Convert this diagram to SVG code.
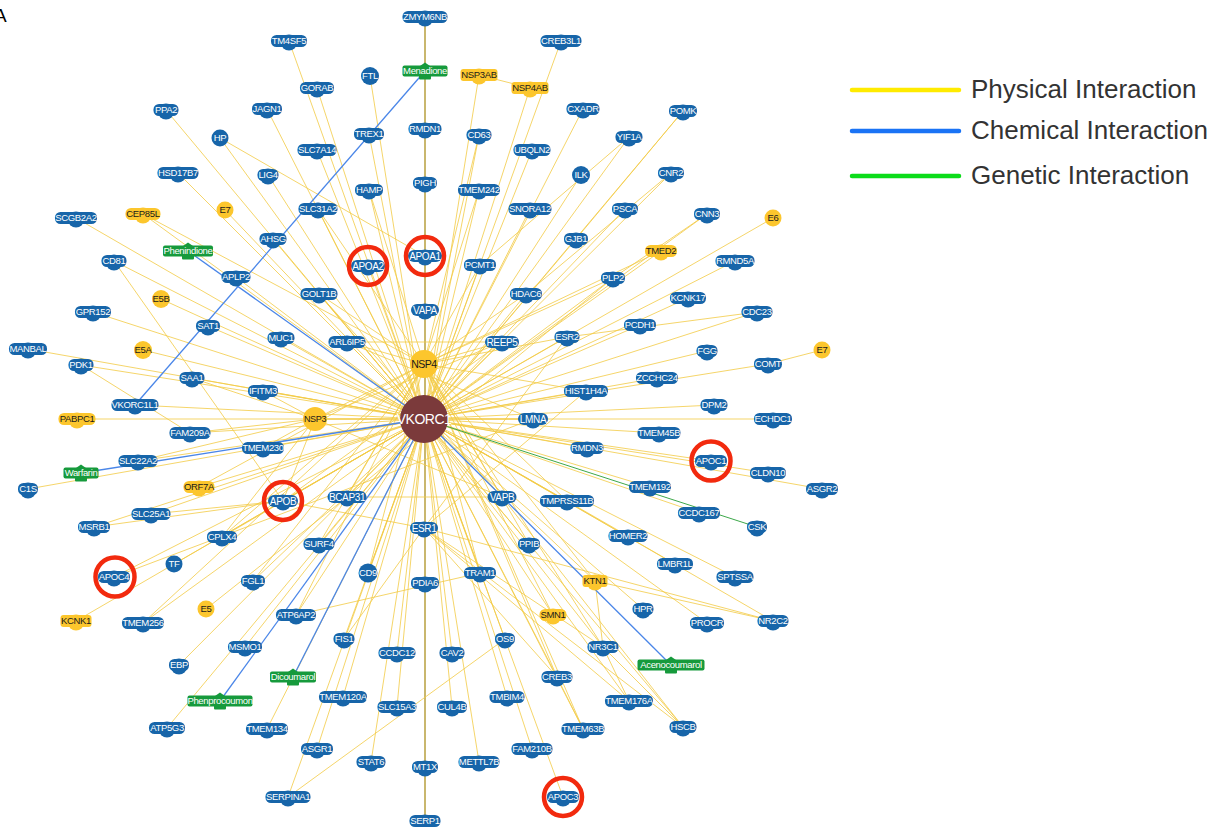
<svg xmlns="http://www.w3.org/2000/svg" width="1215" height="827" viewBox="0 0 1215 827">
<style>
.b{fill:#1765a9}
.y{fill:#fcc62d}
.g{fill:#169a3c}
rect.b,rect.y{y:-6px;height:12px}
circle.b[cy="1"],circle.y[cy="1"]{r:8px;cy:1.5px}
.t{font-family:"Liberation Sans",Arial,sans-serif;font-size:9.5px;letter-spacing:-0.35px;text-anchor:middle;fill:#fff}
.L{font-size:10px}
.k{fill:#1a1a1a}
.e line{stroke:#f2cb45;stroke-width:1;stroke-opacity:.8}
line.c{stroke:#4a86e8;stroke-width:1.3;stroke-opacity:1}
line.gn{stroke:#3da84a;stroke-width:1;stroke-opacity:1}
line.v{stroke:#c9b76e;stroke-width:2;stroke-opacity:1}
.r{fill:none;stroke:#f22a0e;stroke-width:4.5}
.lg{font-family:"Liberation Sans",Arial,sans-serif;font-size:26px;fill:#333}
</style>
<rect width="1215" height="827" fill="#fff"/>
<text x="-6" y="22" font-family="Liberation Sans,Arial,sans-serif" font-size="19" fill="#000">A</text>
<g id="connectors" class="e">
<line class="v" x1="425" y1="17" x2="425" y2="821"/>
<line x1="289" y1="41" x2="424" y2="419"/>
<line x1="317" y1="88" x2="424" y2="419"/>
<line x1="370" y1="76" x2="424" y2="419"/>
<line x1="267" y1="109" x2="424" y2="419"/>
<line x1="166" y1="110" x2="424" y2="419"/>
<line x1="220" y1="138" x2="424" y2="419"/>
<line x1="369" y1="134" x2="424" y2="419"/>
<line x1="317" y1="150" x2="424" y2="419"/>
<line x1="268" y1="175" x2="424" y2="419"/>
<line x1="178" y1="173" x2="424" y2="419"/>
<line x1="369" y1="190" x2="424" y2="419"/>
<line x1="318" y1="209" x2="424" y2="419"/>
<line x1="273" y1="239" x2="424" y2="419"/>
<line x1="76" y1="218" x2="424" y2="419"/>
<line x1="368" y1="266" x2="424" y2="419"/>
<line x1="114" y1="261" x2="424" y2="419"/>
<line x1="236" y1="277" x2="424" y2="419"/>
<line x1="319" y1="294" x2="424" y2="419"/>
<line x1="93" y1="312" x2="424" y2="419"/>
<line x1="208" y1="326" x2="424" y2="419"/>
<line x1="281" y1="338" x2="424" y2="419"/>
<line x1="347" y1="342" x2="424" y2="419"/>
<line x1="28" y1="349" x2="424" y2="419"/>
<line x1="81" y1="365" x2="424" y2="419"/>
<line x1="192" y1="378" x2="424" y2="419"/>
<line x1="263" y1="391" x2="424" y2="419"/>
<line x1="135" y1="405" x2="424" y2="419"/>
<line x1="190" y1="433" x2="424" y2="419"/>
<line x1="263" y1="448" x2="424" y2="419"/>
<line x1="138" y1="461" x2="424" y2="419"/>
<line x1="28" y1="489" x2="424" y2="419"/>
<line x1="283" y1="501" x2="424" y2="419"/>
<line x1="347" y1="497" x2="424" y2="419"/>
<line x1="151" y1="514" x2="424" y2="419"/>
<line x1="94" y1="527" x2="424" y2="419"/>
<line x1="222" y1="537" x2="424" y2="419"/>
<line x1="319" y1="544" x2="424" y2="419"/>
<line x1="114" y1="577" x2="424" y2="419"/>
<line x1="174" y1="564" x2="424" y2="419"/>
<line x1="253" y1="581" x2="424" y2="419"/>
<line x1="143" y1="623" x2="424" y2="419"/>
<line x1="368" y1="573" x2="424" y2="419"/>
<line x1="296" y1="615" x2="424" y2="419"/>
<line x1="245" y1="647" x2="424" y2="419"/>
<line x1="179" y1="665" x2="424" y2="419"/>
<line x1="344" y1="639" x2="424" y2="419"/>
<line x1="397" y1="653" x2="424" y2="419"/>
<line x1="167" y1="728" x2="424" y2="419"/>
<line x1="267" y1="729" x2="424" y2="419"/>
<line x1="343" y1="697" x2="424" y2="419"/>
<line x1="397" y1="707" x2="424" y2="419"/>
<line x1="317" y1="749" x2="424" y2="419"/>
<line x1="371" y1="762" x2="424" y2="419"/>
<line x1="288" y1="797" x2="424" y2="419"/>
<line x1="561" y1="41" x2="424" y2="419"/>
<line x1="583" y1="109" x2="424" y2="419"/>
<line x1="683" y1="111" x2="424" y2="419"/>
<line x1="479" y1="135" x2="424" y2="419"/>
<line x1="532" y1="150" x2="424" y2="419"/>
<line x1="629" y1="137" x2="424" y2="419"/>
<line x1="581" y1="175" x2="424" y2="419"/>
<line x1="671" y1="173" x2="424" y2="419"/>
<line x1="479" y1="190" x2="424" y2="419"/>
<line x1="530" y1="209" x2="424" y2="419"/>
<line x1="625" y1="209" x2="424" y2="419"/>
<line x1="707" y1="214" x2="424" y2="419"/>
<line x1="576" y1="239" x2="424" y2="419"/>
<line x1="480" y1="265" x2="424" y2="419"/>
<line x1="735" y1="261" x2="424" y2="419"/>
<line x1="613" y1="278" x2="424" y2="419"/>
<line x1="526" y1="294" x2="424" y2="419"/>
<line x1="688" y1="298" x2="424" y2="419"/>
<line x1="757" y1="312" x2="424" y2="419"/>
<line x1="640" y1="325" x2="424" y2="419"/>
<line x1="567" y1="337" x2="424" y2="419"/>
<line x1="502" y1="342" x2="424" y2="419"/>
<line x1="707" y1="351" x2="424" y2="419"/>
<line x1="768" y1="364" x2="424" y2="419"/>
<line x1="657" y1="378" x2="424" y2="419"/>
<line x1="586" y1="391" x2="424" y2="419"/>
<line x1="714" y1="405" x2="424" y2="419"/>
<line x1="533" y1="419" x2="424" y2="419"/>
<line x1="773" y1="419" x2="424" y2="419"/>
<line x1="659" y1="433" x2="424" y2="419"/>
<line x1="587" y1="448" x2="424" y2="419"/>
<line x1="711" y1="461" x2="424" y2="419"/>
<line x1="768" y1="473" x2="424" y2="419"/>
<line x1="822" y1="489" x2="424" y2="419"/>
<line x1="650" y1="487" x2="424" y2="419"/>
<line x1="502" y1="497" x2="424" y2="419"/>
<line x1="567" y1="501" x2="424" y2="419"/>
<line x1="699" y1="513" x2="424" y2="419"/>
<line x1="529" y1="544" x2="424" y2="419"/>
<line x1="628" y1="536" x2="424" y2="419"/>
<line x1="675" y1="564" x2="424" y2="419"/>
<line x1="735" y1="577" x2="424" y2="419"/>
<line x1="480" y1="573" x2="424" y2="419"/>
<line x1="643" y1="609" x2="424" y2="419"/>
<line x1="707" y1="623" x2="424" y2="419"/>
<line x1="773" y1="621" x2="424" y2="419"/>
<line x1="603" y1="647" x2="424" y2="419"/>
<line x1="452" y1="653" x2="424" y2="419"/>
<line x1="505" y1="639" x2="424" y2="419"/>
<line x1="557" y1="677" x2="424" y2="419"/>
<line x1="507" y1="697" x2="424" y2="419"/>
<line x1="452" y1="707" x2="424" y2="419"/>
<line x1="629" y1="701" x2="424" y2="419"/>
<line x1="583" y1="729" x2="424" y2="419"/>
<line x1="683" y1="727" x2="424" y2="419"/>
<line x1="532" y1="749" x2="424" y2="419"/>
<line x1="479" y1="762" x2="424" y2="419"/>
<line x1="563" y1="797" x2="424" y2="419"/>
<line x1="143" y1="214" x2="424" y2="419"/>
<line x1="479" y1="75" x2="424" y2="419"/>
<line x1="530" y1="88" x2="424" y2="419"/>
<line x1="661" y1="251" x2="424" y2="419"/>
<line x1="77" y1="419" x2="424" y2="419"/>
<line x1="199" y1="487" x2="424" y2="419"/>
<line x1="76" y1="621" x2="424" y2="419"/>
<line x1="595" y1="581" x2="424" y2="419"/>
<line x1="553" y1="615" x2="424" y2="419"/>
<line x1="225" y1="210" x2="424" y2="419"/>
<line x1="773" y1="218" x2="424" y2="419"/>
<line x1="161" y1="299" x2="424" y2="419"/>
<line x1="143" y1="350" x2="424" y2="419"/>
<line x1="315" y1="419" x2="424" y2="419"/>
<line x1="220" y1="138" x2="425" y2="256"/>
<line x1="114" y1="261" x2="283" y2="501"/>
<line x1="479" y1="75" x2="530" y2="88"/>
<line x1="822" y1="350" x2="768" y2="364"/>
<line x1="773" y1="621" x2="424" y2="528"/>
<line x1="206" y1="609" x2="347" y2="497"/>
<line x1="288" y1="797" x2="505" y2="639"/>
<line x1="296" y1="615" x2="480" y2="573"/>
<line x1="424" y1="364" x2="319" y2="294"/>
<line x1="424" y1="364" x2="347" y2="342"/>
<line x1="424" y1="364" x2="502" y2="342"/>
<line x1="424" y1="364" x2="526" y2="294"/>
<line x1="424" y1="364" x2="567" y2="337"/>
<line x1="424" y1="364" x2="315" y2="419"/>
<line x1="424" y1="364" x2="347" y2="497"/>
<line x1="424" y1="364" x2="502" y2="497"/>
<line x1="424" y1="364" x2="319" y2="544"/>
<line x1="424" y1="364" x2="222" y2="537"/>
<line x1="424" y1="364" x2="199" y2="487"/>
<line x1="424" y1="364" x2="613" y2="278"/>
<line x1="424" y1="364" x2="661" y2="251"/>
<line x1="424" y1="364" x2="143" y2="214"/>
<line x1="424" y1="364" x2="143" y2="623"/>
<line x1="424" y1="364" x2="253" y2="581"/>
<line x1="424" y1="364" x2="553" y2="615"/>
<line x1="424" y1="364" x2="595" y2="581"/>
<line x1="424" y1="364" x2="480" y2="265"/>
<line x1="424" y1="364" x2="479" y2="190"/>
<line x1="424" y1="364" x2="479" y2="135"/>
<line x1="424" y1="364" x2="318" y2="209"/>
<line x1="424" y1="364" x2="369" y2="190"/>
<line x1="424" y1="364" x2="480" y2="573"/>
<line x1="424" y1="364" x2="368" y2="573"/>
<line x1="424" y1="364" x2="529" y2="544"/>
<line x1="424" y1="364" x2="296" y2="615"/>
<line x1="424" y1="364" x2="567" y2="501"/>
<line x1="424" y1="364" x2="586" y2="391"/>
<line x1="424" y1="364" x2="603" y2="647"/>
<line x1="424" y1="364" x2="557" y2="677"/>
<line x1="424" y1="364" x2="583" y2="729"/>
<line x1="315" y1="419" x2="263" y2="391"/>
<line x1="315" y1="419" x2="263" y2="448"/>
<line x1="315" y1="419" x2="190" y2="433"/>
<line x1="315" y1="419" x2="192" y2="378"/>
<line x1="315" y1="419" x2="138" y2="461"/>
<line x1="315" y1="419" x2="283" y2="501"/>
<line x1="315" y1="419" x2="222" y2="537"/>
<line x1="315" y1="419" x2="502" y2="342"/>
<line x1="315" y1="419" x2="533" y2="419"/>
<line x1="315" y1="419" x2="502" y2="497"/>
<line x1="424" y1="528" x2="603" y2="647"/>
<line x1="424" y1="528" x2="629" y2="701"/>
<line x1="424" y1="528" x2="344" y2="639"/>
<line x1="424" y1="528" x2="683" y2="727"/>
<line x1="424" y1="528" x2="557" y2="677"/>
<line x1="424" y1="528" x2="586" y2="391"/>
<line x1="424" y1="528" x2="567" y2="337"/>
<line x1="424" y1="528" x2="283" y2="501"/>
<line x1="533" y1="419" x2="114" y2="577"/>
<line x1="533" y1="419" x2="347" y2="342"/>
<line x1="502" y1="497" x2="319" y2="294"/>
<line x1="502" y1="497" x2="683" y2="727"/>
<line x1="502" y1="342" x2="283" y2="501"/>
<line x1="502" y1="342" x2="347" y2="342"/>
<line x1="347" y1="497" x2="502" y2="497"/>
<line x1="347" y1="497" x2="613" y2="278"/>
<line x1="283" y1="501" x2="151" y2="514"/>
<line x1="283" y1="501" x2="94" y2="527"/>
<line x1="81" y1="365" x2="190" y2="433"/>
<line x1="603" y1="647" x2="683" y2="727"/>
<line x1="603" y1="647" x2="629" y2="701"/>
<line x1="595" y1="581" x2="773" y2="621"/>
<line x1="595" y1="581" x2="603" y2="647"/>
<line x1="757" y1="312" x2="567" y2="337"/>
<line x1="683" y1="111" x2="576" y2="239"/>
<line x1="629" y1="137" x2="480" y2="265"/>
<line x1="671" y1="173" x2="526" y2="294"/>
<line x1="707" y1="214" x2="613" y2="278"/>
<line x1="557" y1="677" x2="583" y2="729"/>
<line class="c" x1="425" y1="71" x2="135" y2="405"/>
<line class="c" x1="188" y1="251" x2="424" y2="419"/>
<line class="c" x1="81" y1="473" x2="424" y2="419"/>
<line class="c" x1="293" y1="677" x2="424" y2="419"/>
<line class="c" x1="220" y1="701" x2="424" y2="419"/>
<line class="c" x1="671" y1="665" x2="424" y2="419"/>
<line class="gn" x1="424" y1="419" x2="757" y2="527"/>
</g>
<g id="nodes">
<g id="n-VKORC1"><circle cx="424" cy="419" r="24" fill="#7b3a3b"/><text class="t" x="424" y="424" style="font-size:14px;letter-spacing:-0.5px">VKORC1</text></g>
<g id="n-NSP4"><circle class="y" cx="424" cy="364" r="14"/><text class="t k" x="424" y="368" style="font-size:10.5px;letter-spacing:-0.5px">NSP4</text></g>
<g id="n-NSP3"><circle class="y" cx="315" cy="419" r="12"/><text class="t k" x="315" y="422" style="font-size:9px">NSP3</text></g>
<g id="n-E7a" transform="translate(225 210)"><circle class="y" r="8.5"/><text class="t k" y="3">E7</text></g>
<g id="n-E6" transform="translate(773 218)"><circle class="y" r="8.5"/><text class="t k" y="3">E6</text></g>
<g id="n-E5B" transform="translate(161 299)"><circle class="y" r="9"/><text class="t k" y="3">E5B</text></g>
<g id="n-E5A" transform="translate(143 350)"><circle class="y" r="9"/><text class="t k" y="3">E5A</text></g>
<g id="n-E7b" transform="translate(822 350)"><circle class="y" r="8.5"/><text class="t k" y="3">E7</text></g>
<g id="n-E5" transform="translate(206 609)"><circle class="y" r="8.5"/><text class="t k" y="3">E5</text></g>
<g id="n-HP" transform="translate(220 138)"><circle class="b" r="8.5"/><text class="t" y="3">HP</text></g>
<g id="n-FTL" transform="translate(370 76)"><circle class="b" r="9"/><text class="t" y="3">FTL</text></g>
<g id="n-TF" transform="translate(174 564)"><circle class="b" r="8.5"/><text class="t" y="3">TF</text></g>
<g id="n-ILK" transform="translate(581 175)"><circle class="b" r="9"/><text class="t" y="3">ILK</text></g>
<g id="n-CD9" transform="translate(368 573)"><circle class="b" r="9.5"/><text class="t" y="3">CD9</text></g>
<g id="n-ZMYM6NB" transform="translate(425 17)"><rect class="b" x="-22.5" y="-5.5" width="45" height="11" rx="5.5"/><circle class="b" cy="1" r="7.5"/><text class="t" y="3">ZMYM6NB</text></g>
<g id="n-RMDN1" transform="translate(425 129)"><rect class="b" x="-16.5" y="-5.5" width="33" height="11" rx="5.5"/><circle class="b" cy="1" r="7.5"/><text class="t" y="3">RMDN1</text></g>
<g id="n-PIGH" transform="translate(425 183)"><rect class="b" x="-12" y="-5.5" width="24" height="11" rx="5.5"/><circle class="b" cy="1" r="7.5"/><text class="t" y="3">PIGH</text></g>
<g id="n-APOA1" transform="translate(425 256)"><rect class="b" x="-17" y="-6" width="34" height="12" rx="6"/><circle class="b" cy="1" r="8"/><text class="t L" y="3.5">APOA1</text></g>
<g id="n-VAPA" transform="translate(425 310)"><rect class="b" x="-14" y="-6" width="28" height="12" rx="6"/><circle class="b" cy="1" r="8"/><text class="t L" y="3.5">VAPA</text></g>
<g id="n-ESR1" transform="translate(424 528)"><rect class="b" x="-14" y="-6" width="28" height="12" rx="6"/><circle class="b" cy="1" r="8"/><text class="t L" y="3.5">ESR1</text></g>
<g id="n-PDIA6" transform="translate(425 583)"><rect class="b" x="-14" y="-5.5" width="28" height="11" rx="5.5"/><circle class="b" cy="1" r="7.5"/><text class="t" y="3">PDIA6</text></g>
<g id="n-MT1X" transform="translate(425 767)"><rect class="b" x="-13" y="-5.5" width="26" height="11" rx="5.5"/><circle class="b" cy="1" r="7.5"/><text class="t" y="3">MT1X</text></g>
<g id="n-SERP1" transform="translate(425 821)"><rect class="b" x="-15.5" y="-5.5" width="31" height="11" rx="5.5"/><circle class="b" cy="1" r="7.5"/><text class="t" y="3">SERP1</text></g>
<g id="n-TM4SF5" transform="translate(289 41)"><rect class="b" x="-18" y="-5.5" width="36" height="11" rx="5.5"/><circle class="b" cy="1" r="7.5"/><text class="t" y="3">TM4SF5</text></g>
<g id="n-GORAB" transform="translate(317 88)"><rect class="b" x="-17" y="-5.5" width="34" height="11" rx="5.5"/><circle class="b" cy="1" r="7.5"/><text class="t" y="3">GORAB</text></g>
<g id="n-JAGN1" transform="translate(267 109)"><rect class="b" x="-15" y="-5.5" width="30" height="11" rx="5.5"/><circle class="b" cy="1" r="7.5"/><text class="t" y="3">JAGN1</text></g>
<g id="n-PPA2" transform="translate(166 110)"><rect class="b" x="-12.5" y="-5.5" width="25" height="11" rx="5.5"/><circle class="b" cy="1" r="7.5"/><text class="t" y="3">PPA2</text></g>
<g id="n-TREX1" transform="translate(369 134)"><rect class="b" x="-15" y="-5.5" width="30" height="11" rx="5.5"/><circle class="b" cy="1" r="7.5"/><text class="t" y="3">TREX1</text></g>
<g id="n-SLC7A14" transform="translate(317 150)"><rect class="b" x="-19.5" y="-5.5" width="39" height="11" rx="5.5"/><circle class="b" cy="1" r="7.5"/><text class="t" y="3">SLC7A14</text></g>
<g id="n-LIG4" transform="translate(268 175)"><rect class="b" x="-10.5" y="-5.5" width="21" height="11" rx="5.5"/><circle class="b" cy="1" r="7.5"/><text class="t" y="3">LIG4</text></g>
<g id="n-HSD17B7" transform="translate(178 173)"><rect class="b" x="-20.5" y="-5.5" width="41" height="11" rx="5.5"/><circle class="b" cy="1" r="7.5"/><text class="t" y="3">HSD17B7</text></g>
<g id="n-HAMP" transform="translate(369 190)"><rect class="b" x="-14" y="-5.5" width="28" height="11" rx="5.5"/><circle class="b" cy="1" r="7.5"/><text class="t" y="3">HAMP</text></g>
<g id="n-SLC31A2" transform="translate(318 209)"><rect class="b" x="-19.5" y="-5.5" width="39" height="11" rx="5.5"/><circle class="b" cy="1" r="7.5"/><text class="t" y="3">SLC31A2</text></g>
<g id="n-AHSG" transform="translate(273 239)"><rect class="b" x="-13.5" y="-5.5" width="27" height="11" rx="5.5"/><circle class="b" cy="1" r="7.5"/><text class="t" y="3">AHSG</text></g>
<g id="n-SCGB2A2" transform="translate(76 218)"><rect class="b" x="-21" y="-5.5" width="42" height="11" rx="5.5"/><circle class="b" cy="1" r="7.5"/><text class="t" y="3">SCGB2A2</text></g>
<g id="n-APOA2" transform="translate(368 266)"><rect class="b" x="-17" y="-6" width="34" height="12" rx="6"/><circle class="b" cy="1" r="8"/><text class="t L" y="3.5">APOA2</text></g>
<g id="n-CD81" transform="translate(114 261)"><rect class="b" x="-12.5" y="-5.5" width="25" height="11" rx="5.5"/><circle class="b" cy="1" r="7.5"/><text class="t" y="3">CD81</text></g>
<g id="n-APLP2" transform="translate(236 277)"><rect class="b" x="-14.5" y="-5.5" width="29" height="11" rx="5.5"/><circle class="b" cy="1" r="7.5"/><text class="t" y="3">APLP2</text></g>
<g id="n-GOLT1B" transform="translate(319 294)"><rect class="b" x="-18.5" y="-5.5" width="37" height="11" rx="5.5"/><circle class="b" cy="1" r="7.5"/><text class="t" y="3">GOLT1B</text></g>
<g id="n-GPR152" transform="translate(93 312)"><rect class="b" x="-18" y="-5.5" width="36" height="11" rx="5.5"/><circle class="b" cy="1" r="7.5"/><text class="t" y="3">GPR152</text></g>
<g id="n-SAT1" transform="translate(208 326)"><rect class="b" x="-12" y="-5.5" width="24" height="11" rx="5.5"/><circle class="b" cy="1" r="7.5"/><text class="t" y="3">SAT1</text></g>
<g id="n-MUC1" transform="translate(281 338)"><rect class="b" x="-13.5" y="-5.5" width="27" height="11" rx="5.5"/><circle class="b" cy="1" r="7.5"/><text class="t" y="3">MUC1</text></g>
<g id="n-ARL6IP5" transform="translate(347 342)"><rect class="b" x="-18.5" y="-5.5" width="37" height="11" rx="5.5"/><circle class="b" cy="1" r="7.5"/><text class="t" y="3">ARL6IP5</text></g>
<g id="n-MANBAL" transform="translate(28 349)"><rect class="b" x="-19" y="-5.5" width="38" height="11" rx="5.5"/><circle class="b" cy="1" r="7.5"/><text class="t" y="3">MANBAL</text></g>
<g id="n-PDK1" transform="translate(81 365)"><rect class="b" x="-12.5" y="-5.5" width="25" height="11" rx="5.5"/><circle class="b" cy="1" r="7.5"/><text class="t" y="3">PDK1</text></g>
<g id="n-SAA1" transform="translate(192 378)"><rect class="b" x="-12.5" y="-5.5" width="25" height="11" rx="5.5"/><circle class="b" cy="1" r="7.5"/><text class="t" y="3">SAA1</text></g>
<g id="n-IFITM3" transform="translate(263 391)"><rect class="b" x="-15" y="-5.5" width="30" height="11" rx="5.5"/><circle class="b" cy="1" r="7.5"/><text class="t" y="3">IFITM3</text></g>
<g id="n-VKORC1L1" transform="translate(135 405)"><rect class="b" x="-23.5" y="-5.5" width="47" height="11" rx="5.5"/><circle class="b" cy="1" r="7.5"/><text class="t" y="3">VKORC1L1</text></g>
<g id="n-FAM209A" transform="translate(190 433)"><rect class="b" x="-20.5" y="-5.5" width="41" height="11" rx="5.5"/><circle class="b" cy="1" r="7.5"/><text class="t" y="3">FAM209A</text></g>
<g id="n-TMEM230" transform="translate(263 448)"><rect class="b" x="-21" y="-5.5" width="42" height="11" rx="5.5"/><circle class="b" cy="1" r="7.5"/><text class="t" y="3">TMEM230</text></g>
<g id="n-SLC22A2" transform="translate(138 461)"><rect class="b" x="-19.5" y="-5.5" width="39" height="11" rx="5.5"/><circle class="b" cy="1" r="7.5"/><text class="t" y="3">SLC22A2</text></g>
<g id="n-C1S" transform="translate(28 489)"><rect class="b" x="-10" y="-5.5" width="20" height="11" rx="5.5"/><circle class="b" cy="1" r="7.5"/><text class="t" y="3">C1S</text></g>
<g id="n-APOB" transform="translate(283 501)"><rect class="b" x="-15" y="-6" width="30" height="12" rx="6"/><circle class="b" cy="1" r="8"/><text class="t L" y="3.5">APOB</text></g>
<g id="n-BCAP31" transform="translate(347 497)"><rect class="b" x="-19.5" y="-6" width="39" height="12" rx="6"/><circle class="b" cy="1" r="8"/><text class="t L" y="3.5">BCAP31</text></g>
<g id="n-SLC25A1" transform="translate(151 514)"><rect class="b" x="-19.5" y="-5.5" width="39" height="11" rx="5.5"/><circle class="b" cy="1" r="7.5"/><text class="t" y="3">SLC25A1</text></g>
<g id="n-MSRB1" transform="translate(94 527)"><rect class="b" x="-16" y="-5.5" width="32" height="11" rx="5.5"/><circle class="b" cy="1" r="7.5"/><text class="t" y="3">MSRB1</text></g>
<g id="n-CPLX4" transform="translate(222 537)"><rect class="b" x="-15" y="-5.5" width="30" height="11" rx="5.5"/><circle class="b" cy="1" r="7.5"/><text class="t" y="3">CPLX4</text></g>
<g id="n-SURF4" transform="translate(319 544)"><rect class="b" x="-15.5" y="-5.5" width="31" height="11" rx="5.5"/><circle class="b" cy="1" r="7.5"/><text class="t" y="3">SURF4</text></g>
<g id="n-APOC4" transform="translate(114 577)"><rect class="b" x="-16" y="-5.5" width="32" height="11" rx="5.5"/><circle class="b" cy="1" r="7.5"/><text class="t" y="3">APOC4</text></g>
<g id="n-FGL1" transform="translate(253 581)"><rect class="b" x="-12" y="-5.5" width="24" height="11" rx="5.5"/><circle class="b" cy="1" r="7.5"/><text class="t" y="3">FGL1</text></g>
<g id="n-TMEM256" transform="translate(143 623)"><rect class="b" x="-21" y="-5.5" width="42" height="11" rx="5.5"/><circle class="b" cy="1" r="7.5"/><text class="t" y="3">TMEM256</text></g>
<g id="n-ATP6AP2" transform="translate(296 615)"><rect class="b" x="-20" y="-5.5" width="40" height="11" rx="5.5"/><circle class="b" cy="1" r="7.5"/><text class="t" y="3">ATP6AP2</text></g>
<g id="n-MSMO1" transform="translate(245 647)"><rect class="b" x="-17" y="-5.5" width="34" height="11" rx="5.5"/><circle class="b" cy="1" r="7.5"/><text class="t" y="3">MSMO1</text></g>
<g id="n-EBP" transform="translate(179 665)"><rect class="b" x="-10" y="-5.5" width="20" height="11" rx="5.5"/><circle class="b" cy="1" r="7.5"/><text class="t" y="3">EBP</text></g>
<g id="n-FIS1" transform="translate(344 639)"><rect class="b" x="-10.5" y="-5.5" width="21" height="11" rx="5.5"/><circle class="b" cy="1" r="7.5"/><text class="t" y="3">FIS1</text></g>
<g id="n-CCDC12" transform="translate(397 653)"><rect class="b" x="-18.5" y="-5.5" width="37" height="11" rx="5.5"/><circle class="b" cy="1" r="7.5"/><text class="t" y="3">CCDC12</text></g>
<g id="n-ATP5G3" transform="translate(167 728)"><rect class="b" x="-18" y="-5.5" width="36" height="11" rx="5.5"/><circle class="b" cy="1" r="7.5"/><text class="t" y="3">ATP5G3</text></g>
<g id="n-TMEM134" transform="translate(267 729)"><rect class="b" x="-21" y="-5.5" width="42" height="11" rx="5.5"/><circle class="b" cy="1" r="7.5"/><text class="t" y="3">TMEM134</text></g>
<g id="n-TMEM120A" transform="translate(343 697)"><rect class="b" x="-24" y="-5.5" width="48" height="11" rx="5.5"/><circle class="b" cy="1" r="7.5"/><text class="t" y="3">TMEM120A</text></g>
<g id="n-SLC15A3" transform="translate(397 707)"><rect class="b" x="-19.5" y="-5.5" width="39" height="11" rx="5.5"/><circle class="b" cy="1" r="7.5"/><text class="t" y="3">SLC15A3</text></g>
<g id="n-ASGR1" transform="translate(317 749)"><rect class="b" x="-16" y="-5.5" width="32" height="11" rx="5.5"/><circle class="b" cy="1" r="7.5"/><text class="t" y="3">ASGR1</text></g>
<g id="n-STAT6" transform="translate(371 762)"><rect class="b" x="-14.5" y="-5.5" width="29" height="11" rx="5.5"/><circle class="b" cy="1" r="7.5"/><text class="t" y="3">STAT6</text></g>
<g id="n-SERPINA1" transform="translate(288 797)"><rect class="b" x="-22.5" y="-5.5" width="45" height="11" rx="5.5"/><circle class="b" cy="1" r="7.5"/><text class="t" y="3">SERPINA1</text></g>
<g id="n-CREB3L1" transform="translate(561 41)"><rect class="b" x="-20.5" y="-5.5" width="41" height="11" rx="5.5"/><circle class="b" cy="1" r="7.5"/><text class="t" y="3">CREB3L1</text></g>
<g id="n-CXADR" transform="translate(583 109)"><rect class="b" x="-16.5" y="-5.5" width="33" height="11" rx="5.5"/><circle class="b" cy="1" r="7.5"/><text class="t" y="3">CXADR</text></g>
<g id="n-POMK" transform="translate(683 111)"><rect class="b" x="-14" y="-5.5" width="28" height="11" rx="5.5"/><circle class="b" cy="1" r="7.5"/><text class="t" y="3">POMK</text></g>
<g id="n-CD63" transform="translate(479 135)"><rect class="b" x="-12.5" y="-5.5" width="25" height="11" rx="5.5"/><circle class="b" cy="1" r="7.5"/><text class="t" y="3">CD63</text></g>
<g id="n-UBQLN2" transform="translate(532 150)"><rect class="b" x="-18.5" y="-5.5" width="37" height="11" rx="5.5"/><circle class="b" cy="1" r="7.5"/><text class="t" y="3">UBQLN2</text></g>
<g id="n-YIF1A" transform="translate(629 137)"><rect class="b" x="-13.5" y="-5.5" width="27" height="11" rx="5.5"/><circle class="b" cy="1" r="7.5"/><text class="t" y="3">YIF1A</text></g>
<g id="n-CNR2" transform="translate(671 173)"><rect class="b" x="-13" y="-5.5" width="26" height="11" rx="5.5"/><circle class="b" cy="1" r="7.5"/><text class="t" y="3">CNR2</text></g>
<g id="n-TMEM242" transform="translate(479 190)"><rect class="b" x="-21" y="-5.5" width="42" height="11" rx="5.5"/><circle class="b" cy="1" r="7.5"/><text class="t" y="3">TMEM242</text></g>
<g id="n-SNORA12" transform="translate(530 209)"><rect class="b" x="-21.5" y="-5.5" width="43" height="11" rx="5.5"/><circle class="b" cy="1" r="7.5"/><text class="t" y="3">SNORA12</text></g>
<g id="n-PSCA" transform="translate(625 209)"><rect class="b" x="-13" y="-5.5" width="26" height="11" rx="5.5"/><circle class="b" cy="1" r="7.5"/><text class="t" y="3">PSCA</text></g>
<g id="n-CNN3" transform="translate(707 214)"><rect class="b" x="-13" y="-5.5" width="26" height="11" rx="5.5"/><circle class="b" cy="1" r="7.5"/><text class="t" y="3">CNN3</text></g>
<g id="n-GJB1" transform="translate(576 239)"><rect class="b" x="-12" y="-5.5" width="24" height="11" rx="5.5"/><circle class="b" cy="1" r="7.5"/><text class="t" y="3">GJB1</text></g>
<g id="n-PCMT1" transform="translate(480 265)"><rect class="b" x="-16" y="-5.5" width="32" height="11" rx="5.5"/><circle class="b" cy="1" r="7.5"/><text class="t" y="3">PCMT1</text></g>
<g id="n-RMND5A" transform="translate(735 261)"><rect class="b" x="-19.5" y="-5.5" width="39" height="11" rx="5.5"/><circle class="b" cy="1" r="7.5"/><text class="t" y="3">RMND5A</text></g>
<g id="n-PLP2" transform="translate(613 278)"><rect class="b" x="-12" y="-5.5" width="24" height="11" rx="5.5"/><circle class="b" cy="1" r="7.5"/><text class="t" y="3">PLP2</text></g>
<g id="n-HDAC6" transform="translate(526 294)"><rect class="b" x="-16" y="-5.5" width="32" height="11" rx="5.5"/><circle class="b" cy="1" r="7.5"/><text class="t" y="3">HDAC6</text></g>
<g id="n-KCNK17" transform="translate(688 298)"><rect class="b" x="-18" y="-5.5" width="36" height="11" rx="5.5"/><circle class="b" cy="1" r="7.5"/><text class="t" y="3">KCNK17</text></g>
<g id="n-CDC23" transform="translate(757 312)"><rect class="b" x="-15.5" y="-5.5" width="31" height="11" rx="5.5"/><circle class="b" cy="1" r="7.5"/><text class="t" y="3">CDC23</text></g>
<g id="n-PCDH1" transform="translate(640 325)"><rect class="b" x="-16" y="-5.5" width="32" height="11" rx="5.5"/><circle class="b" cy="1" r="7.5"/><text class="t" y="3">PCDH1</text></g>
<g id="n-ESR2" transform="translate(567 337)"><rect class="b" x="-12.5" y="-5.5" width="25" height="11" rx="5.5"/><circle class="b" cy="1" r="7.5"/><text class="t" y="3">ESR2</text></g>
<g id="n-REEP5" transform="translate(502 342)"><rect class="b" x="-17" y="-6" width="34" height="12" rx="6"/><circle class="b" cy="1" r="8"/><text class="t L" y="3.5">REEP5</text></g>
<g id="n-FGG" transform="translate(707 351)"><rect class="b" x="-10.5" y="-5.5" width="21" height="11" rx="5.5"/><circle class="b" cy="1" r="7.5"/><text class="t" y="3">FGG</text></g>
<g id="n-COMT" transform="translate(768 364)"><rect class="b" x="-14" y="-5.5" width="28" height="11" rx="5.5"/><circle class="b" cy="1" r="7.5"/><text class="t" y="3">COMT</text></g>
<g id="n-ZCCHC24" transform="translate(657 378)"><rect class="b" x="-21" y="-5.5" width="42" height="11" rx="5.5"/><circle class="b" cy="1" r="7.5"/><text class="t" y="3">ZCCHC24</text></g>
<g id="n-HIST1H4A" transform="translate(586 391)"><rect class="b" x="-22" y="-5.5" width="44" height="11" rx="5.5"/><circle class="b" cy="1" r="7.5"/><text class="t" y="3">HIST1H4A</text></g>
<g id="n-DPM2" transform="translate(714 405)"><rect class="b" x="-13.5" y="-5.5" width="27" height="11" rx="5.5"/><circle class="b" cy="1" r="7.5"/><text class="t" y="3">DPM2</text></g>
<g id="n-LMNA" transform="translate(533 419)"><rect class="b" x="-15" y="-6" width="30" height="12" rx="6"/><circle class="b" cy="1" r="8"/><text class="t L" y="3.5">LMNA</text></g>
<g id="n-ECHDC1" transform="translate(773 419)"><rect class="b" x="-19" y="-5.5" width="38" height="11" rx="5.5"/><circle class="b" cy="1" r="7.5"/><text class="t" y="3">ECHDC1</text></g>
<g id="n-TMEM45B" transform="translate(659 433)"><rect class="b" x="-21.5" y="-5.5" width="43" height="11" rx="5.5"/><circle class="b" cy="1" r="7.5"/><text class="t" y="3">TMEM45B</text></g>
<g id="n-RMDN3" transform="translate(587 448)"><rect class="b" x="-16.5" y="-5.5" width="33" height="11" rx="5.5"/><circle class="b" cy="1" r="7.5"/><text class="t" y="3">RMDN3</text></g>
<g id="n-APOC1" transform="translate(711 461)"><rect class="b" x="-16" y="-5.5" width="32" height="11" rx="5.5"/><circle class="b" cy="1" r="7.5"/><text class="t" y="3">APOC1</text></g>
<g id="n-CLDN10" transform="translate(768 473)"><rect class="b" x="-18" y="-5.5" width="36" height="11" rx="5.5"/><circle class="b" cy="1" r="7.5"/><text class="t" y="3">CLDN10</text></g>
<g id="n-ASGR2" transform="translate(822 489)"><rect class="b" x="-16" y="-5.5" width="32" height="11" rx="5.5"/><circle class="b" cy="1" r="7.5"/><text class="t" y="3">ASGR2</text></g>
<g id="n-TMEM192" transform="translate(650 487)"><rect class="b" x="-21" y="-5.5" width="42" height="11" rx="5.5"/><circle class="b" cy="1" r="7.5"/><text class="t" y="3">TMEM192</text></g>
<g id="n-VAPB" transform="translate(502 497)"><rect class="b" x="-14.5" y="-6" width="29" height="12" rx="6"/><circle class="b" cy="1" r="8"/><text class="t L" y="3.5">VAPB</text></g>
<g id="n-TMPRSS11B" transform="translate(567 501)"><rect class="b" x="-27" y="-5.5" width="54" height="11" rx="5.5"/><circle class="b" cy="1" r="7.5"/><text class="t" y="3">TMPRSS11B</text></g>
<g id="n-CCDC167" transform="translate(699 513)"><rect class="b" x="-21" y="-5.5" width="42" height="11" rx="5.5"/><circle class="b" cy="1" r="7.5"/><text class="t" y="3">CCDC167</text></g>
<g id="n-CSK" transform="translate(757 527)"><rect class="b" x="-10" y="-5.5" width="20" height="11" rx="5.5"/><circle class="b" cy="1" r="7.5"/><text class="t" y="3">CSK</text></g>
<g id="n-PPIB" transform="translate(529 544)"><rect class="b" x="-11" y="-5.5" width="22" height="11" rx="5.5"/><circle class="b" cy="1" r="7.5"/><text class="t" y="3">PPIB</text></g>
<g id="n-HOMER2" transform="translate(628 536)"><rect class="b" x="-19.5" y="-5.5" width="39" height="11" rx="5.5"/><circle class="b" cy="1" r="7.5"/><text class="t" y="3">HOMER2</text></g>
<g id="n-LMBR1L" transform="translate(675 564)"><rect class="b" x="-18" y="-5.5" width="36" height="11" rx="5.5"/><circle class="b" cy="1" r="7.5"/><text class="t" y="3">LMBR1L</text></g>
<g id="n-SPTSSA" transform="translate(735 577)"><rect class="b" x="-18.5" y="-5.5" width="37" height="11" rx="5.5"/><circle class="b" cy="1" r="7.5"/><text class="t" y="3">SPTSSA</text></g>
<g id="n-TRAM1" transform="translate(480 573)"><rect class="b" x="-16" y="-5.5" width="32" height="11" rx="5.5"/><circle class="b" cy="1" r="7.5"/><text class="t" y="3">TRAM1</text></g>
<g id="n-HPR" transform="translate(643 609)"><rect class="b" x="-10.5" y="-5.5" width="21" height="11" rx="5.5"/><circle class="b" cy="1" r="7.5"/><text class="t" y="3">HPR</text></g>
<g id="n-PROCR" transform="translate(707 623)"><rect class="b" x="-17" y="-5.5" width="34" height="11" rx="5.5"/><circle class="b" cy="1" r="7.5"/><text class="t" y="3">PROCR</text></g>
<g id="n-NR2C2" transform="translate(773 621)"><rect class="b" x="-15.5" y="-5.5" width="31" height="11" rx="5.5"/><circle class="b" cy="1" r="7.5"/><text class="t" y="3">NR2C2</text></g>
<g id="n-NR3C1" transform="translate(603 647)"><rect class="b" x="-15.5" y="-5.5" width="31" height="11" rx="5.5"/><circle class="b" cy="1" r="7.5"/><text class="t" y="3">NR3C1</text></g>
<g id="n-CAV2" transform="translate(452 653)"><rect class="b" x="-12.5" y="-5.5" width="25" height="11" rx="5.5"/><circle class="b" cy="1" r="7.5"/><text class="t" y="3">CAV2</text></g>
<g id="n-OS9" transform="translate(505 639)"><rect class="b" x="-10" y="-5.5" width="20" height="11" rx="5.5"/><circle class="b" cy="1" r="7.5"/><text class="t" y="3">OS9</text></g>
<g id="n-CREB3" transform="translate(557 677)"><rect class="b" x="-15.5" y="-5.5" width="31" height="11" rx="5.5"/><circle class="b" cy="1" r="7.5"/><text class="t" y="3">CREB3</text></g>
<g id="n-TMBIM4" transform="translate(507 697)"><rect class="b" x="-17.5" y="-5.5" width="35" height="11" rx="5.5"/><circle class="b" cy="1" r="7.5"/><text class="t" y="3">TMBIM4</text></g>
<g id="n-CUL4B" transform="translate(452 707)"><rect class="b" x="-15" y="-5.5" width="30" height="11" rx="5.5"/><circle class="b" cy="1" r="7.5"/><text class="t" y="3">CUL4B</text></g>
<g id="n-TMEM176A" transform="translate(629 701)"><rect class="b" x="-24" y="-5.5" width="48" height="11" rx="5.5"/><circle class="b" cy="1" r="7.5"/><text class="t" y="3">TMEM176A</text></g>
<g id="n-TMEM63B" transform="translate(583 729)"><rect class="b" x="-21.5" y="-5.5" width="43" height="11" rx="5.5"/><circle class="b" cy="1" r="7.5"/><text class="t" y="3">TMEM63B</text></g>
<g id="n-HSCB" transform="translate(683 727)"><rect class="b" x="-13.5" y="-5.5" width="27" height="11" rx="5.5"/><circle class="b" cy="1" r="7.5"/><text class="t" y="3">HSCB</text></g>
<g id="n-FAM210B" transform="translate(532 749)"><rect class="b" x="-20.5" y="-5.5" width="41" height="11" rx="5.5"/><circle class="b" cy="1" r="7.5"/><text class="t" y="3">FAM210B</text></g>
<g id="n-METTL7B" transform="translate(479 762)"><rect class="b" x="-20.5" y="-5.5" width="41" height="11" rx="5.5"/><circle class="b" cy="1" r="7.5"/><text class="t" y="3">METTL7B</text></g>
<g id="n-APOC3" transform="translate(563 797)"><rect class="b" x="-16" y="-5.5" width="32" height="11" rx="5.5"/><circle class="b" cy="1" r="7.5"/><text class="t" y="3">APOC3</text></g>
<g id="n-CEP85L" transform="translate(143 214)"><rect class="y" x="-17.5" y="-5.5" width="35" height="11" rx="5.5"/><circle class="y" cy="1" r="7.5"/><text class="t k" y="3">CEP85L</text></g>
<g id="n-NSP3AB" transform="translate(479 75)"><rect class="y" x="-18.5" y="-5.5" width="37" height="11" rx="3"/><circle class="y" cy="1" r="7.5"/><text class="t k" y="3">NSP3AB</text></g>
<g id="n-NSP4AB" transform="translate(530 88)"><rect class="y" x="-18.5" y="-5.5" width="37" height="11" rx="3"/><circle class="y" cy="1" r="7.5"/><text class="t k" y="3">NSP4AB</text></g>
<g id="n-TMED2" transform="translate(661 251)"><rect class="y" x="-16" y="-5.5" width="32" height="11" rx="5.5"/><circle class="y" cy="1" r="7.5"/><text class="t k" y="3">TMED2</text></g>
<g id="n-PABPC1" transform="translate(77 419)"><rect class="y" x="-18.5" y="-5.5" width="37" height="11" rx="5.5"/><circle class="y" cy="1" r="7.5"/><text class="t k" y="3">PABPC1</text></g>
<g id="n-ORF7A" transform="translate(199 487)"><rect class="y" x="-15.5" y="-5.5" width="31" height="11" rx="5.5"/><circle class="y" cy="1" r="7.5"/><text class="t k" y="3">ORF7A</text></g>
<g id="n-KCNK1" transform="translate(76 621)"><rect class="y" x="-15.5" y="-5.5" width="31" height="11" rx="3"/><circle class="y" cy="1" r="7.5"/><text class="t k" y="3">KCNK1</text></g>
<g id="n-KTN1" transform="translate(595 581)"><rect class="y" x="-12.5" y="-5.5" width="25" height="11" rx="3"/><circle class="y" cy="1" r="7.5"/><text class="t k" y="3">KTN1</text></g>
<g id="n-SMN1" transform="translate(553 615)"><rect class="y" x="-13.5" y="-5.5" width="27" height="11" rx="5.5"/><circle class="y" cy="1" r="7.5"/><text class="t k" y="3">SMN1</text></g>
<g id="n-Menadione" transform="translate(425 71)"><rect class="g" x="-22.5" y="-5.5" width="45" height="11" rx="2"/><polygon class="g" points="-5,-5 0,-8.5 5,-5"/><rect class="g" x="-6" y="4" width="12" height="4.5" rx="1"/><text class="t" y="3">Menadione</text></g>
<g id="n-Phenindione" transform="translate(188 251)"><rect class="g" x="-25" y="-5.5" width="50" height="11" rx="2"/><polygon class="g" points="-5,-5 0,-8.5 5,-5"/><rect class="g" x="-6" y="4" width="12" height="4.5" rx="1"/><text class="t" y="3">Phenindione</text></g>
<g id="n-Warfarin" transform="translate(81 473)"><rect class="g" x="-17.5" y="-5.5" width="35" height="11" rx="2"/><polygon class="g" points="-5,-5 0,-8.5 5,-5"/><rect class="g" x="-6" y="4" width="12" height="4.5" rx="1"/><text class="t" y="3">Warfarin</text></g>
<g id="n-Dicoumarol" transform="translate(293 677)"><rect class="g" x="-23" y="-5.5" width="46" height="11" rx="2"/><polygon class="g" points="-5,-5 0,-8.5 5,-5"/><rect class="g" x="-6" y="4" width="12" height="4.5" rx="1"/><text class="t" y="3">Dicoumarol</text></g>
<g id="n-Phenprocoumon" transform="translate(220 701)"><rect class="g" x="-32.5" y="-5.5" width="65" height="11" rx="2"/><polygon class="g" points="-5,-5 0,-8.5 5,-5"/><rect class="g" x="-6" y="4" width="12" height="4.5" rx="1"/><text class="t" y="3">Phenprocoumon</text></g>
<g id="n-Acenocoumarol" transform="translate(671 665)"><rect class="g" x="-33.5" y="-5.5" width="67" height="11" rx="2"/><polygon class="g" points="-5,-5 0,-8.5 5,-5"/><rect class="g" x="-6" y="4" width="12" height="4.5" rx="1"/><text class="t" y="3">Acenocoumarol</text></g>
</g>
<g id="highlights">
<circle class="r" cx="368" cy="266" r="19"/>
<circle class="r" cx="425" cy="256" r="19"/>
<circle class="r" cx="283" cy="501" r="19"/>
<circle class="r" cx="711" cy="461" r="19.5"/>
<circle class="r" cx="115" cy="577" r="19.5"/>
<circle class="r" cx="563" cy="797" r="19"/>
</g>
<g id="legend">
<line x1="852" y1="90" x2="959" y2="90" stroke="#ffeb00" stroke-width="4.5" stroke-linecap="round"/>
<line x1="852" y1="131" x2="959" y2="131" stroke="#1a73f5" stroke-width="4.5" stroke-linecap="round"/>
<line x1="852" y1="176" x2="959" y2="176" stroke="#0cdc1a" stroke-width="4.5" stroke-linecap="round"/>
<text class="lg" x="971" y="98">Physical Interaction</text>
<text class="lg" x="971" y="139">Chemical Interaction</text>
<text class="lg" x="971" y="184">Genetic Interaction</text>
</g>
</svg>
